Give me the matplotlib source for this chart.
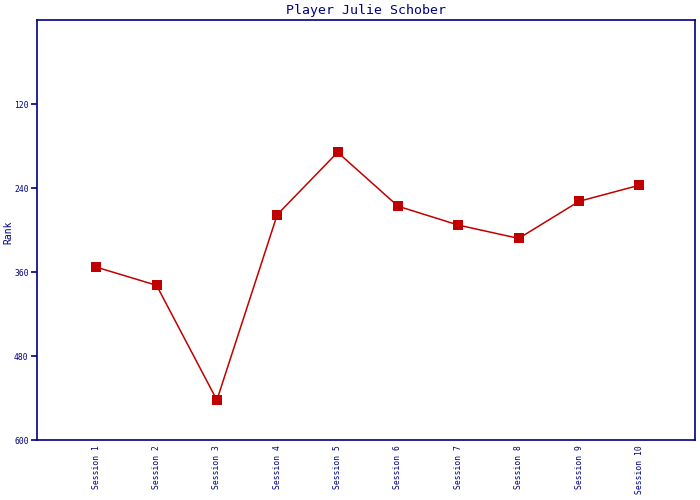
import matplotlib
matplotlib.use("Agg")
import matplotlib.pyplot as plt

# --- Data ---
SESSIONS = ["Session %d" % i for i in range(1, 11)]
RANKS = [353, 379, 543, 278, 189, 266, 293, 312, 259, 236]
Y_TICKS = [120, 240, 360, 480, 600]

NAVY = "#000080"
RED = "#C00000"

plt.rcParams['font.family'] = ['DejaVu Sans Mono']

fig = plt.figure(figsize=(7, 5), dpi=100)
ax = fig.add_axes([37 / 700, 60 / 500, 658 / 700, 420 / 500])

x = list(range(1, len(SESSIONS) + 1))
ax.plot(x, RANKS, color=RED, lw=1.1, marker="s", markersize=6.6, markeredgewidth=0)

ax.set_xlim(0.02, 10.92)
ax.set_ylim(600, 0)
ax.set_yticks(Y_TICKS)
ax.set_yticklabels([str(v) for v in Y_TICKS], fontsize=5.8, color=NAVY)
ax.set_xticks(x)
ax.set_xticklabels(SESSIONS, rotation=90, fontsize=5.8, color=NAVY, va="top")
ax.tick_params(axis="x", length=0, pad=4)
ax.tick_params(axis="y", length=4, width=1.2, color=NAVY, pad=2, direction="out")

for s in ax.spines.values():
    s.set_color(NAVY)
    s.set_linewidth(1.2)

fig.text(8 / 700, 1 - 232 / 500, "Rank", rotation=90, fontsize=7, color=NAVY,
         ha="center", va="center")
ax.set_title("Player Julie Schober", fontsize=9.5, color=NAVY, pad=4)

fig.savefig("out.png", dpi=100)
